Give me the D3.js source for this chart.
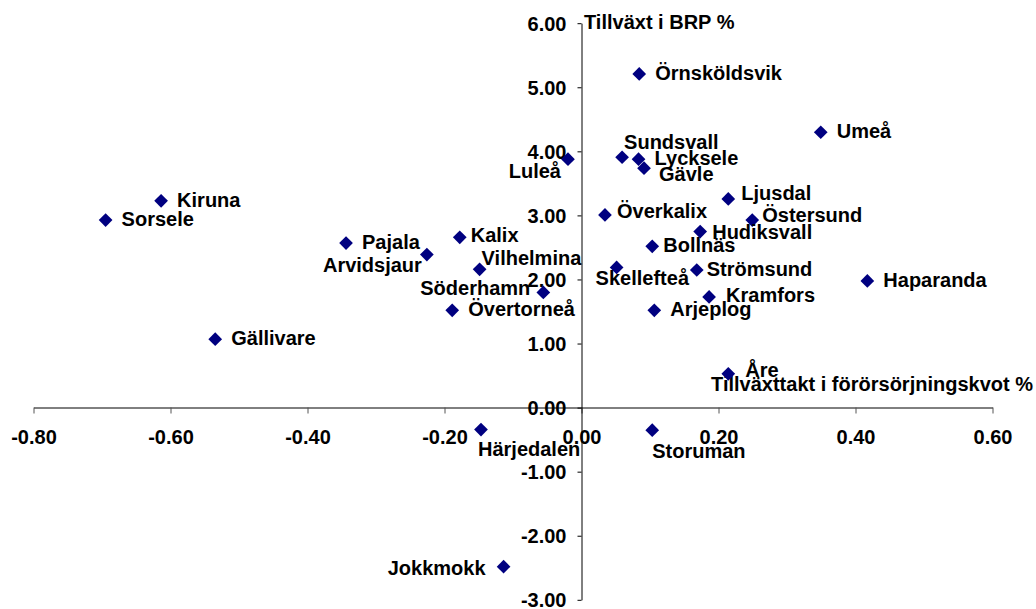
<!DOCTYPE html>
<html>
<head>
<meta charset="utf-8">
<script src="https://cdn.jsdelivr.net/npm/d3@7"></script>
<style>
  html, body { margin: 0; padding: 0; background: #fff; }
  svg { display: block; }
  text { font-family: "Liberation Sans", Arial, sans-serif; font-weight: bold; font-size: 20px; fill: #000; }
</style>
</head>
<body>
<svg id="chart" width="1036" height="609"></svg>
<script>
// ---- data ----
const names = ["Örnsköldsvik","Umeå","Sundsvall","Lycksele","Gävle","Luleå","Kiruna","Sorsele",
  "Ljusdal","Östersund","Överkalix","Hudiksvall","Bollnäs","Pajala","Arvidsjaur","Kalix",
  "Vilhelmina","Skellefteå","Strömsund","Haparanda","Söderhamn","Kramfors","Övertorneå",
  "Arjeplog","Gällivare","Åre","Härjedalen","Storuman","Jokkmokk"];
const xValues = [0.085, 0.350, 0.060, 0.084, 0.092, -0.019, -0.613, -0.694,
  0.215, 0.250, 0.035, 0.174, 0.104, -0.343, -0.225, -0.177,
  -0.148, 0.052, 0.169, 0.418, -0.055, 0.187, -0.188,
  0.107, -0.534, 0.215, -0.146, 0.104, -0.113];
const yValues = [5.20, 4.29, 3.90, 3.87, 3.73, 3.87, 3.22, 2.92,
  3.25, 2.92, 3.00, 2.74, 2.51, 2.56, 2.38, 2.65,
  2.15, 2.18, 2.14, 1.97, 1.79, 1.72, 1.51,
  1.51, 1.06, 0.52, -0.35, -0.36, -2.49];
const xTicks = [-0.80, -0.60, -0.40, -0.20, 0.00, 0.20, 0.40, 0.60];
const yTicks = [-3, -2, -1, 0, 1, 2, 3, 4, 5, 6];
const xTitle = "Tillväxttakt i förörsörjningskvot %";
const yTitle = "Tillväxt i BRP %";

// ---- label layout (offsets from marker: dx, dy to baseline, anchor) ----
const labelLayout = {
  "Arvidsjaur": [-5, 17, "end"],
  "Kalix": [11, 5, "start"],
  "Vilhelmina": [2, -4, "start"],
  "Söderhamn": [-13, 3, "end"],
  "Luleå": [-7, 19, "end"],
  "Sundsvall": [2, -8, "start"],
  "Gävle": [15, 13, "start"],
  "Överkalix": [12, 3, "start"],
  "Ljusdal": [13, 1, "start"],
  "Östersund": [10, 2, "start"],
  "Hudiksvall": [12, 7, "start"],
  "Bollnäs": [11, 6, "start"],
  "Skellefteå": [-21, 18, "start"],
  "Strömsund": [10, 6, "start"],
  "Kramfors": [17, 5, "start"],
  "Åre": [17, 3, "start"],
  "Härjedalen": [-3, 26, "start"],
  "Storuman": [0, 28, "start"],
  "Jokkmokk": [-18, 8, "end"]
};
const defaultLayout = [16, 6, "start"];

// ---- chart ----
const svg = d3.select("#chart");
const x = d3.scaleLinear().domain([-0.8, 0.6]).range([33, 992]);
const y = d3.scaleLinear().domain([-3, 6]).range([599.3, 22.7]);
const fmt = v => v.toFixed(2);

const x0 = Math.round(x(0)) + 0.5;
const y0 = Math.round(y(0)) + 0.5;
const fontCss = sel => sel.style("font-size", "20px")
  .style("font-family", "'Liberation Sans', Arial, sans-serif").style("font-weight", "bold");

// x axis
const gx = svg.append("g").attr("transform", `translate(0.5,${y0})`)
  .call(d3.axisBottom(x).tickValues(xTicks).tickFormat(fmt).tickSize(6).tickSizeOuter(0));
gx.select(".domain").attr("stroke", "#000");
gx.selectAll(".tick line").attr("stroke", "#555");
gx.selectAll(".tick text").attr("y", 36).attr("dy", null).call(fontCss);

// y axis
const gy = svg.append("g").attr("transform", `translate(${x0},0.5)`)
  .call(d3.axisLeft(y).tickValues(yTicks).tickFormat(fmt).tickSize(4).tickSizeOuter(0));
gy.select(".domain").attr("stroke", "#000");
gy.selectAll(".tick line").attr("stroke", "#000");
gy.selectAll(".tick text").attr("x", -15).attr("y", 7).attr("dy", null).call(fontCss);

// axis titles
svg.append("text").attr("x", x(0) + 3).attr("y", y(6) + 6).text(yTitle);
svg.append("text").attr("x", 1033).attr("y", y(0) - 16.5).attr("text-anchor", "end").text(xTitle);

// points
const data = names.map((n, i) => ({ name: n, x: xValues[i], y: yValues[i] }));
const sym = d3.symbol().type(d3.symbolSquare).size(94);
svg.append("g").selectAll("path").data(data).join("path")
  .attr("d", sym)
  .attr("transform", d => `translate(${x(d.x)},${y(d.y)}) rotate(45)`)
  .attr("fill", "#000080");

// labels
svg.append("g").selectAll("text").data(data).join("text")
  .each(function(d) {
    const L = labelLayout[d.name] || defaultLayout;
    d3.select(this)
      .attr("x", x(d.x) + L[0])
      .attr("y", y(d.y) + L[1])
      .attr("text-anchor", L[2])
      .text(d.name);
  });
</script>
</body>
</html>
